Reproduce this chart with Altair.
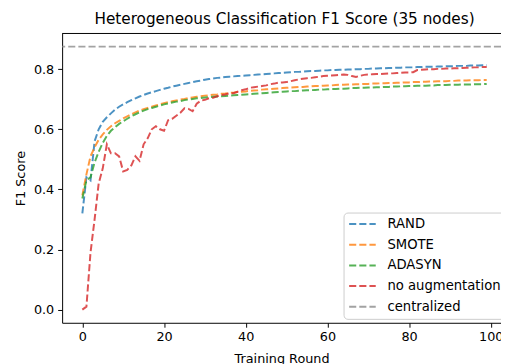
import altair as alt
import pandas as pd

rounds = list(range(100))

rand = [0.32, 0.44, 0.43, 0.56, 0.60, 0.625, 0.64, 0.653, 0.665, 0.675,
        0.683, 0.690, 0.697, 0.703, 0.709, 0.714, 0.719, 0.723, 0.727, 0.731,
        0.735, 0.738, 0.742, 0.745, 0.748, 0.751, 0.754, 0.757, 0.760, 0.762,
        0.765, 0.767, 0.769, 0.771, 0.772, 0.774, 0.775, 0.776, 0.777, 0.778,
        0.779, 0.780, 0.781, 0.782, 0.783, 0.784, 0.785, 0.786, 0.787, 0.788,
        0.789, 0.790, 0.791, 0.791, 0.792, 0.793, 0.794, 0.794, 0.795, 0.796,
        0.796, 0.797, 0.797, 0.798, 0.798, 0.799, 0.799, 0.800, 0.800, 0.801,
        0.801, 0.802, 0.802, 0.803, 0.803, 0.804, 0.804, 0.805, 0.805, 0.806,
        0.806, 0.806, 0.807, 0.807, 0.808, 0.808, 0.808, 0.809, 0.809, 0.810,
        0.810, 0.810, 0.811, 0.811, 0.811, 0.812, 0.812, 0.812, 0.813, 0.813]

smote = [0.38, 0.45, 0.51, 0.54, 0.565, 0.583, 0.598, 0.610, 0.620, 0.628,
         0.636, 0.643, 0.650, 0.656, 0.662, 0.667, 0.671, 0.675, 0.679, 0.683,
         0.687, 0.690, 0.693, 0.696, 0.699, 0.701, 0.704, 0.706, 0.708, 0.710,
         0.712, 0.713, 0.715, 0.716, 0.718, 0.719, 0.721, 0.722, 0.724, 0.725,
         0.726, 0.728, 0.729, 0.730, 0.732, 0.733, 0.734, 0.735, 0.736, 0.737,
         0.738, 0.739, 0.740, 0.741, 0.741, 0.742, 0.743, 0.744, 0.744, 0.745,
         0.746, 0.746, 0.747, 0.748, 0.748, 0.749, 0.749, 0.750, 0.750, 0.751,
         0.751, 0.752, 0.752, 0.753, 0.753, 0.754, 0.754, 0.755, 0.755, 0.756,
         0.756, 0.757, 0.757, 0.758, 0.758, 0.759, 0.759, 0.760, 0.760, 0.760,
         0.761, 0.761, 0.762, 0.762, 0.762, 0.763, 0.763, 0.763, 0.764, 0.764]

adasyn = [0.37, 0.43, 0.44, 0.49, 0.525, 0.555, 0.578, 0.595, 0.607, 0.618,
          0.627, 0.635, 0.643, 0.650, 0.656, 0.662, 0.667, 0.671, 0.675, 0.679,
          0.683, 0.686, 0.689, 0.692, 0.694, 0.697, 0.699, 0.701, 0.703, 0.704,
          0.706, 0.707, 0.708, 0.709, 0.710, 0.711, 0.712, 0.713, 0.714, 0.715,
          0.716, 0.717, 0.718, 0.719, 0.720, 0.721, 0.722, 0.723, 0.724, 0.725,
          0.726, 0.727, 0.727, 0.728, 0.729, 0.730, 0.730, 0.731, 0.732, 0.732,
          0.733, 0.734, 0.734, 0.735, 0.735, 0.736, 0.737, 0.737, 0.738, 0.738,
          0.739, 0.739, 0.740, 0.740, 0.741, 0.741, 0.742, 0.742, 0.743, 0.743,
          0.744, 0.744, 0.745, 0.745, 0.745, 0.746, 0.746, 0.747, 0.747, 0.747,
          0.748, 0.748, 0.748, 0.749, 0.749, 0.749, 0.750, 0.750, 0.750, 0.751]

no_aug = [0.00, 0.01, 0.19, 0.30, 0.42, 0.47, 0.55, 0.52, 0.52, 0.51,
          0.46, 0.465, 0.48, 0.51, 0.495, 0.55, 0.57, 0.60, 0.61, 0.60,
          0.595, 0.63, 0.635, 0.645, 0.655, 0.670, 0.668, 0.660, 0.685, 0.695,
          0.698, 0.703, 0.705, 0.710, 0.714, 0.716, 0.720, 0.720, 0.725, 0.730,
          0.733, 0.738, 0.740, 0.742, 0.744, 0.746, 0.750, 0.752, 0.755, 0.756,
          0.757, 0.760, 0.763, 0.766, 0.768, 0.770, 0.771, 0.773, 0.775, 0.777,
          0.778, 0.779, 0.780, 0.781, 0.782, 0.781, 0.777, 0.774, 0.778, 0.781,
          0.782, 0.783, 0.784, 0.784, 0.785, 0.786, 0.786, 0.787, 0.788, 0.789,
          0.789, 0.790, 0.797, 0.798, 0.799, 0.800, 0.800, 0.801, 0.801, 0.802,
          0.802, 0.803, 0.803, 0.804, 0.805, 0.805, 0.806, 0.806, 0.807, 0.807]

centralized = [0.875]

series_names = ["RAND", "SMOTE", "ADASYN", "no augmentation", "centralized"]
series_colors = ["#1f77b4", "#ff7f0e", "#2ca02c", "#d62728", "#8c8c8c"]
x_ticks = [0, 20, 40, 60, 80, 100]
y_ticks = [0.0, 0.2, 0.4, 0.6, 0.8]

rows = []
for name, vals in zip(series_names[:4], [rand, smote, adasyn, no_aug]):
    for r, v in zip(rounds, vals):
        rows.append({"round": r, "f1": v, "series": name})
df = pd.DataFrame(rows)
cdf = pd.DataFrame({"f1": centralized, "series": ["centralized"]})

W, H = 446, 294
FONT = "DejaVu Sans"
DASH = [7.2, 3.1]

color = alt.Color(
    "series:N",
    scale=alt.Scale(domain=series_names, range=series_colors),
    sort=series_names,
    legend=alt.Legend(
        title=None, orient="none", legendX=286, legendY=182,
        symbolType="M-2.7,0H2.7", symbolStrokeWidth=2, symbolDash=DASH,
        symbolSize=100, symbolOpacity=0.8, symbolOffset=7.5,
        labelFontSize=13.4, labelFont=FONT, labelColor="black",
        fillColor="rgba(255,255,255,0.8)", strokeColor="#cccccc",
        cornerRadius=4, padding=5, labelOffset=18.7, rowPadding=6,
    ),
)

x_enc = alt.X(
    "round:Q",
    scale=alt.Scale(domain=[-4.95, 102.5], nice=False, zero=False),
    axis=alt.Axis(values=x_ticks, title="Training Round", format="d"),
)
y_enc = alt.Y(
    "f1:Q",
    scale=alt.Scale(domain=[-0.04375, 0.91875], nice=False, zero=False),
    axis=alt.Axis(values=y_ticks, title="F1 Score", format=".1f"),
)

lines = alt.Chart(df).mark_line(strokeWidth=2, strokeDash=DASH, opacity=0.8).encode(
    x=x_enc, y=y_enc, color=color, detail="series:N"
)

central = alt.Chart(cdf).mark_rule(strokeWidth=2, strokeDash=DASH, opacity=0.8).encode(
    y=alt.Y("f1:Q"), color=alt.Color("series:N")
)

top_spine = alt.Chart(cdf).mark_rule(color="black", strokeWidth=1).encode(
    x=alt.value(0), x2=alt.value(W), y=alt.value(0)
)

chart = alt.layer(lines, central, top_spine).properties(
    width=W, height=H,
    title=alt.TitleParams(
        "Heterogeneous Classification F1 Score (35 nodes)",
        font=FONT, fontSize=15.5, fontWeight="normal", color="black",
        anchor="middle", offset=6, dx=3,
    ),
    autosize=alt.AutoSizeParams(type="none"),
    padding={"left": 55, "top": 23, "right": 0, "bottom": 39},
).configure_view(stroke=None).configure_axis(
    grid=False, domainColor="black", domainWidth=1,
    tickColor="black", tickSize=4.5, tickWidth=1,
    labelFont=FONT, labelFontSize=13, labelColor="black", labelPadding=4,
    titleFont=FONT, titleFontSize=13, titleFontWeight="normal", titleColor="black",
).configure_axisY(titlePadding=6).configure_axisX(titlePadding=9)

chart.save("out.html", embed_options={"renderer": "svg", "actions": False})
